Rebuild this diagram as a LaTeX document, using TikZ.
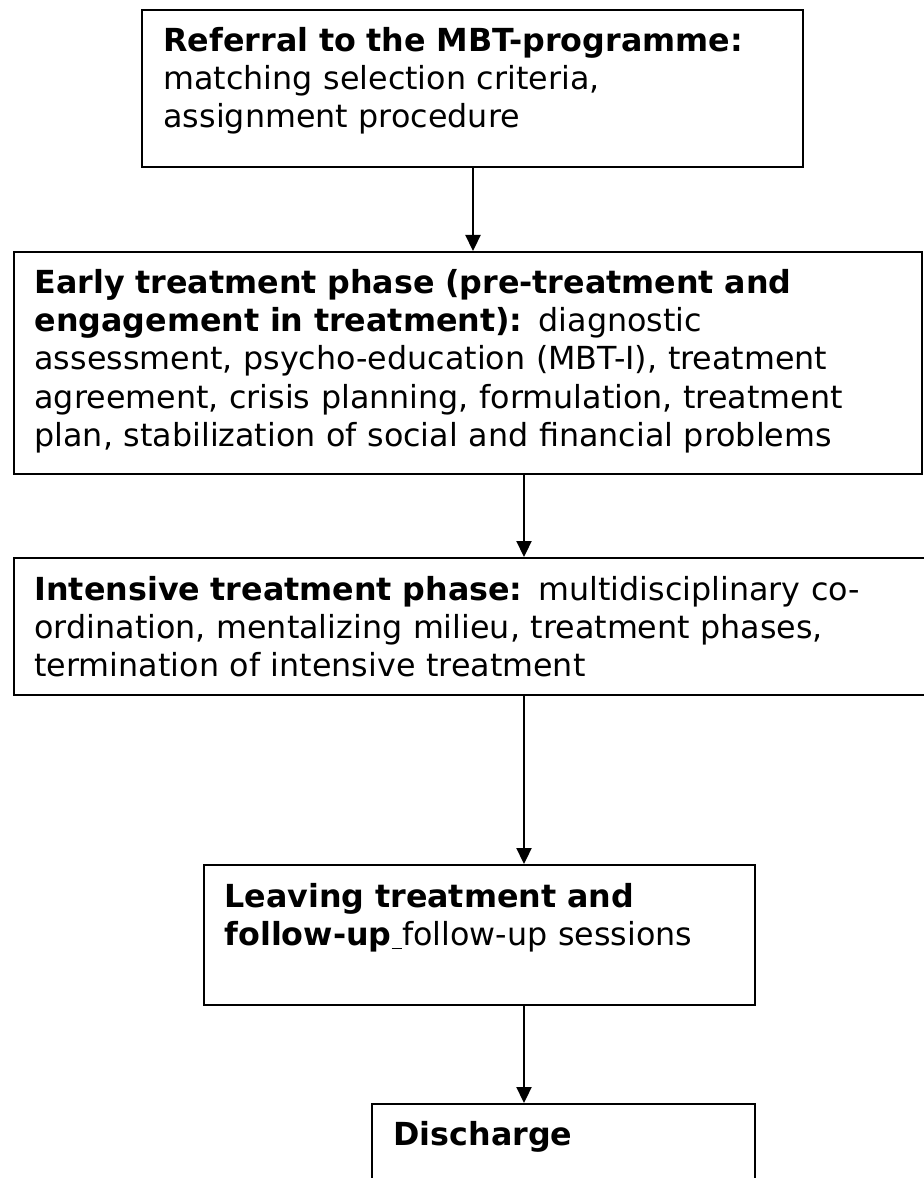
\documentclass[tikz,border=0pt]{standalone}
\usepackage{fontspec}
\setmainfont{DejaVu Sans}
\usetikzlibrary{arrows.meta}
\begin{document}
\begin{tikzpicture}[x=0.4pt,y=-0.4pt,
  box/.style={draw,line width=0.9pt,anchor=north west,inner sep=0pt},
  txt/.style={anchor=base west,inner sep=0pt,align=left,text width=420pt,font=\fontsize{12.7pt}{15.2pt}\selectfont},
  arr/.style={line width=0.9pt,-{Triangle[length=6.4pt,width=6pt]}}]
\useasboundingbox (0,0) rectangle (923,1178);
\node[box,minimum width=264.4pt,minimum height=62.8pt] (referral) at (141,9) {};
\node[box,minimum width=363.2pt,minimum height=88.8pt] (early) at (13,251) {};
\node[box,minimum width=366pt,minimum height=54.8pt] (intensive) at (13,557) {};
\node[box,minimum width=220.4pt,minimum height=56pt] (leaving) at (203,864) {};
\node[box,minimum width=153.2pt,minimum height=48pt] (discharge) at (371,1103) {};
\node[txt] (referraltext) at (163,52) {\textbf{Referral to the MBT-programme:}\\ matching selection criteria,\\ assignment procedure};
\node[txt] (earlytext) at (34,294) {\textbf{Early treatment phase (pre-treatment and}\\ \textbf{engagement in treatment):} diagnostic\\ assessment, psycho-education (MBT-I), treatment\\ agreement, crisis planning, formulation, treatment\\ plan, stabilization of social and financial problems};
\node[txt] (intensivetext) at (34,600) {\textbf{Intensive treatment phase:} multidisciplinary co-\\ ordination, mentalizing milieu, treatment phases,\\ termination of intensive treatment};
\node[txt] (leavingtext) at (224,907) {\textbf{Leaving treatment and}\\ \textbf{follow-up}\underline{\ }follow-up sessions};
\node[txt] (dischargetext) at (393,1145) {\textbf{Discharge}};
\coordinate (ax1) at (473,0);
\coordinate (ax2) at (524,0);
\draw[arr] (referral.south -| ax1) -- (early.north -| ax1);
\draw[arr] (early.south -| ax2) -- (intensive.north -| ax2);
\draw[arr] (intensive.south -| ax2) -- (leaving.north -| ax2);
\draw[arr] (leaving.south -| ax2) -- (discharge.north -| ax2);
\end{tikzpicture}
\end{document}
